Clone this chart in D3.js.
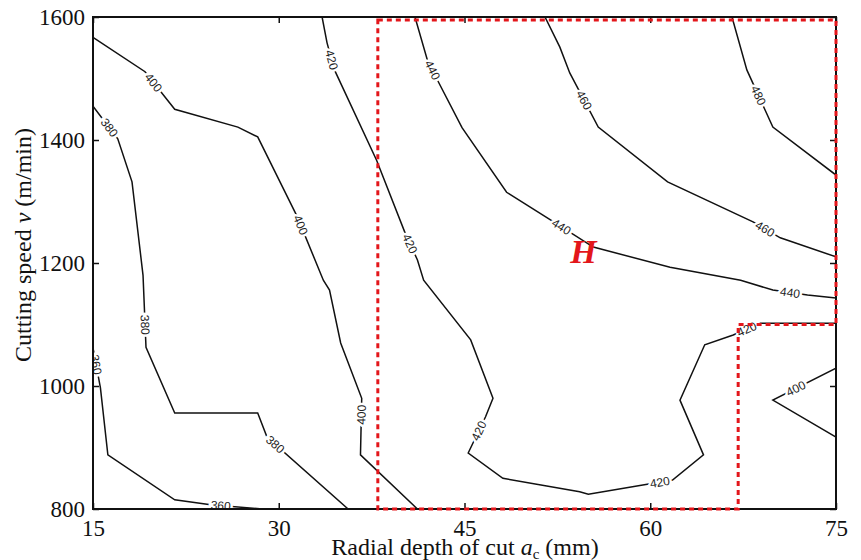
<!DOCTYPE html>
<html>
<head>
<meta charset="utf-8">
<script src="https://cdn.jsdelivr.net/npm/d3@7"></script>
<style>
  body { margin: 0; background: #fff; }
  text { font-family: "Liberation Serif", "Times New Roman", serif; }
</style>
</head>
<body>
<div id="chart"></div>
<script>
// axis ticks
var xTicks = [15, 30, 45, 60, 75];
var yTicks = [800, 1000, 1200, 1400, 1600];

// contour lines, [a_c, v] pairs
var c360 = [[15,1062],[15.6,997],[16.2,888],[21.6,815],[24.5,807],[28.7,800]];
var c380 = [[15,1455],[17,1402],[18.15,1332],[19.04,1180],[19.28,1063],[21.6,956],[28.3,956],[29.05,917],[35.6,800]];
var c400a = [[15,1567],[19.2,1511],[21.6,1450],[26.7,1421],[28.3,1405],[31.5,1275],[33.6,1172],[34.1,1156],[35,1070],[36.7,980],[36.6,888],[41.2,800]];
var c400b = [[75,1029],[69.9,977],[75,917]];
var c420 = [[33.5,1600],[33.9,1558],[34.5,1514],[37.9,1367],[40.2,1249],[41.2,1205],[41.7,1172],[45.5,1075],[47.3,980],[46.7,950],[45.3,891],[48.1,850],[54.3,828],[55,824],[59.4,839],[61.8,847],[64.3,888],[62.4,977],[64.4,1067],[66.7,1083],[68.9,1102],[75,1102]];
var c440 = [[41,1600],[42,1530],[42.8,1498],[44.8,1420],[48.4,1315],[52.2,1267],[55.4,1226],[61.6,1193],[67.3,1172],[69.9,1156],[72.7,1148],[75,1143]];
var c460 = [[51.5,1600],[52.7,1551],[53.5,1509],[55.8,1421],[61.4,1332],[68.3,1267],[70.5,1241],[75,1210]];
var c480 = [[66.6,1600],[67.8,1514],[69.9,1421],[75,1343]];

var contours = [
  {level: 360, pts: c360, labels: [[15.2,1034],[25.3,808]]},
  {level: 380, pts: c380, labels: [[16.6,1425],[19.3,1100],[29.3,896]]},
  {level: 400, pts: c400a, labels: [[19.6,1490],[31.7,1262],[36.7,953]]},
  {level: 400, pts: c400b, labels: [[71.7,997]]},
  {level: 420, pts: c420, labels: [[34.1,1530],[40.4,1229],[46.3,925],[60.8,842],[67.8,1091]]},
  {level: 440, pts: c440, labels: [[42.4,1514],[52.7,1254],[71.3,1148]]},
  {level: 460, pts: c460, labels: [[54.2,1460],[69.1,1249]]},
  {level: 480, pts: c480, labels: [[68.3,1468]]}
];

// highlighted region H
var regionH = [[38,1595],[75,1595],[75,1100],[67.1,1100],[67.1,800],[38,800]];

var W = 861, H = 560;
var svg = d3.select("#chart").append("svg")
  .attr("width", W).attr("height", H);

var x = d3.scaleLinear().domain([15, 75]).range([93, 836]);
var y = d3.scaleLinear().domain([800, 1600]).range([509, 17]);

svg.append("clipPath").attr("id", "clip")
  .append("rect").attr("x", 93).attr("y", 17).attr("width", 743).attr("height", 492);

var line = d3.line().x(function(d){ return x(d[0]); }).y(function(d){ return y(d[1]); });

var g = svg.append("g").attr("clip-path", "url(#clip)");

contours.forEach(function(c) {
  var p = g.append("path")
    .attr("d", line(c.pts))
    .attr("fill", "none")
    .attr("stroke", "#111")
    .attr("stroke-width", 1.5);
  var node = p.node();
  var total = node.getTotalLength();
  c.labels.forEach(function(lab) {
    var px = x(lab[0]), py = y(lab[1]);
    var best = 0, bestD = Infinity;
    for (var l = 0; l <= total; l += 1) {
      var q = node.getPointAtLength(l);
      var dd = (q.x - px) * (q.x - px) + (q.y - py) * (q.y - py);
      if (dd < bestD) { bestD = dd; best = l; }
    }
    var a = node.getPointAtLength(Math.max(0, best - 6));
    var b = node.getPointAtLength(Math.min(total, best + 6));
    var m = node.getPointAtLength(best);
    var ang = Math.atan2(b.y - a.y, b.x - a.x) * 180 / Math.PI;
    if (ang > 90) ang -= 180;
    if (ang <= -90) ang += 180;
    g.append("text")
      .attr("transform", "translate(" + m.x + "," + m.y + ") rotate(" + ang + ")")
      .attr("text-anchor", "middle")
      .attr("dy", "0.35em")
      .style("font-family", "'Liberation Sans', Arial, sans-serif")
      .style("font-size", "12px")
      .style("fill", "#222")
      .style("stroke", "#fff")
      .style("stroke-width", 5)
      .style("paint-order", "stroke")
      .text(c.level);
  });
});

// frame and axes
svg.append("rect")
  .attr("x", 93).attr("y", 17).attr("width", 743).attr("height", 492)
  .attr("fill", "none").attr("stroke", "#111").attr("stroke-width", 2);

var fmt = d3.format("d");
function clean(s) {
  s.select(".domain").remove();
  s.attr("font-family", null).attr("font-size", null);
}
svg.append("g").attr("transform", "translate(0,509)")
  .call(d3.axisBottom(x).tickValues(xTicks).tickSize(-6).tickPadding(11).tickFormat(fmt))
  .call(clean);
svg.append("g").attr("transform", "translate(0,17)")
  .call(d3.axisTop(x).tickValues(xTicks).tickSize(-6).tickFormat(""))
  .call(clean);
svg.append("g").attr("transform", "translate(93,0)")
  .call(d3.axisLeft(y).tickValues(yTicks).tickSize(-6).tickPadding(8).tickFormat(fmt))
  .call(clean);
svg.append("g").attr("transform", "translate(836,0)")
  .call(d3.axisRight(y).tickValues(yTicks).tickSize(-6).tickFormat(""))
  .call(clean);

svg.selectAll("g.tick").select("line").attr("stroke", "#111").attr("stroke-width", 1.5);
svg.selectAll("g.tick").select("text")
  .style("font-family", "'Liberation Serif', 'Times New Roman', serif")
  .style("font-size", "23px")
  .attr("fill", "#111");

// red dashed frame around region H
svg.append("path")
  .attr("d", line(regionH) + "Z")
  .attr("fill", "none")
  .attr("stroke", "#e3161b")
  .attr("stroke-width", 3)
  .attr("stroke-dasharray", "5,4");

svg.append("text")
  .attr("x", x(54.6)).attr("y", y(1200))
  .attr("text-anchor", "middle")
  .style("font-size", "34px")
  .style("font-weight", "bold")
  .style("font-style", "italic")
  .style("fill", "#e3161b")
  .text("H");

// axis titles
var xt = svg.append("text")
  .attr("x", 465).attr("y", 555)
  .attr("text-anchor", "middle")
  .style("font-size", "24px")
  .attr("fill", "#111");
xt.append("tspan").text("Radial depth of cut ");
xt.append("tspan").style("font-style", "italic").text("a");
xt.append("tspan").attr("dy", 4).style("font-size", "15px").text("c");
xt.append("tspan").attr("dy", -4).text(" (mm)");

var yt = svg.append("text")
  .attr("transform", "translate(31,245) rotate(-90)")
  .attr("text-anchor", "middle")
  .style("font-size", "24px")
  .attr("fill", "#111");
yt.append("tspan").text("Cutting speed ");
yt.append("tspan").style("font-style", "italic").text("v");
yt.append("tspan").text(" (m/min)");
</script>
</body>
</html>
